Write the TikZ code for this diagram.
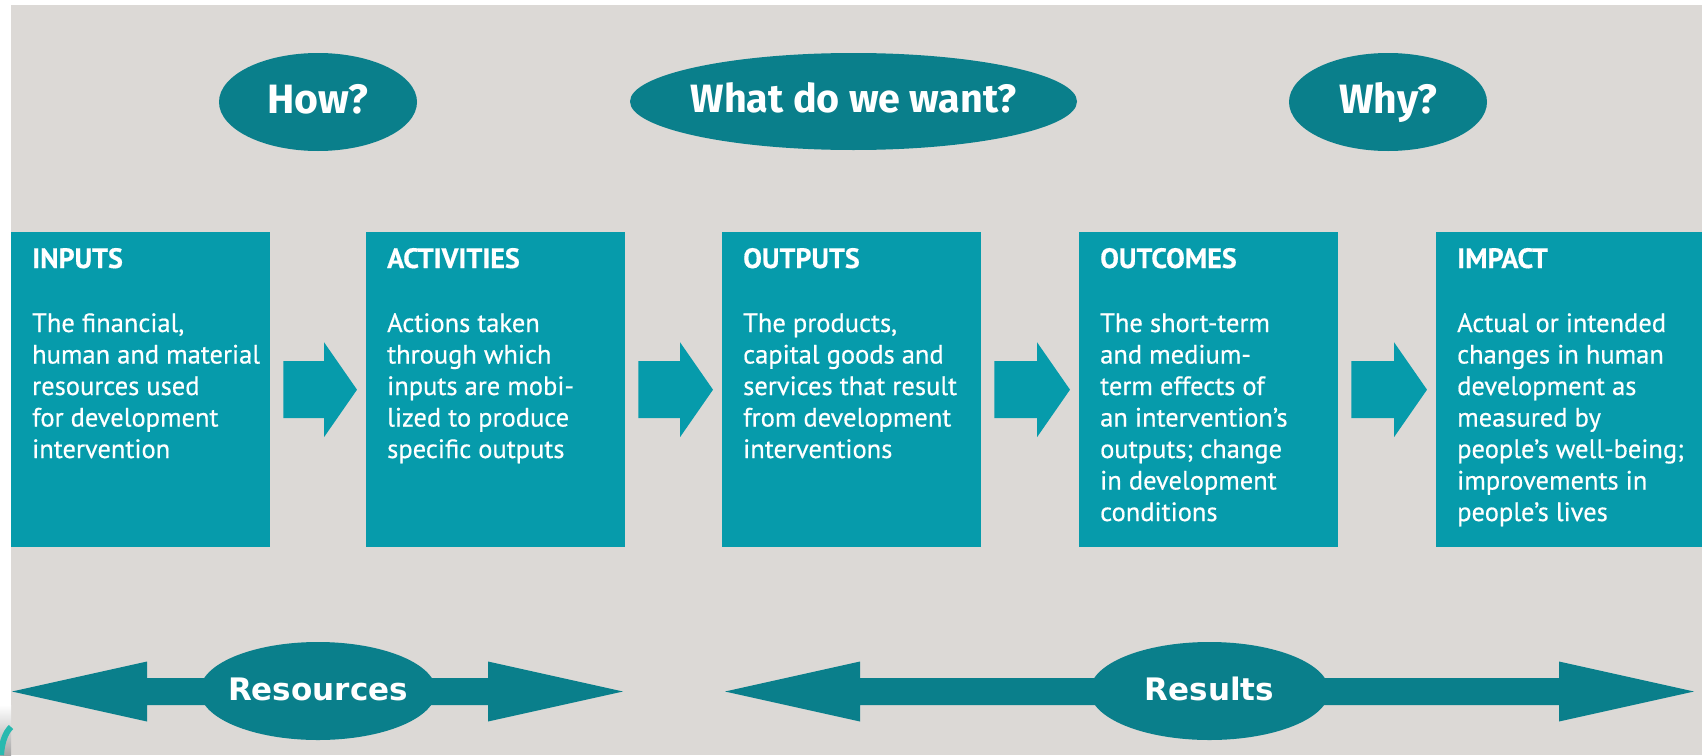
\documentclass[tikz,border=0pt]{standalone}
\usepackage{fontspec}
\setmainfont{PT Sans}[FakeBold=0.5]
\newfontfamily\labelfamily{Fira Sans}
\newfontfamily\bandfamily{DejaVu Sans}
\usetikzlibrary{shapes.geometric,calc}

\definecolor{paper}{RGB}{220,217,214}
\definecolor{boxteal}{RGB}{6,155,171}
\definecolor{deepteal}{RGB}{10,127,139}
\definecolor{edgeteal}{RGB}{40,185,175}

% heading line of a stage box
\newcommand\stagehead[1]{{\fontsize{28}{31.5}\bfseries #1}\\[32.5pt]}

\begin{document}
\begin{tikzpicture}[x=1pt,y=-1pt,
  stage/.style={rectangle, fill=boxteal, draw=none, inner sep=0pt,
    minimum width=259pt, minimum height=315pt, anchor=north west},
  stagetext/.style={anchor=base west, inner sep=0pt, text=white,
    font=\fontsize{26.5}{31.5}\selectfont},
  question/.style={ellipse, fill=deepteal, draw=none, inner sep=0pt,
    text=white, text height=22pt, text depth=0pt,
    font=\labelfamily\bfseries\fontsize{41}{43}\selectfont},
  tag/.style={question, text height=18pt,
    font=\bandfamily\bfseries\fontsize{31}{33}\selectfont},
  % block arrow between two stage boxes
  flow/.style={fill=boxteal, to path={
    let \p1=(\tikztostart.east), \p2=(\tikztotarget.west) in
    (\x1+13pt,\y1+28.5pt) -- (\x2-42pt,\y1+28.5pt) -- (\x2-42pt,\y1+47.5pt)
    -- (\x2-9pt,\y1) -- (\x2-42pt,\y1-47.5pt) -- (\x2-42pt,\y1-28.5pt)
    -- (\x1+13pt,\y1-28.5pt) -- cycle}},
  % double-headed band arrow
  span/.style={fill=deepteal, to path={
    let \p1=(\tikztostart), \p2=(\tikztotarget) in
    (\x1,\y1) -- (\x1+135pt,\y1+30pt) -- (\x1+135pt,\y1+13.5pt)
    -- (\x2-135pt,\y1+13.5pt) -- (\x2-135pt,\y1+30pt) -- (\x2,\y1)
    -- (\x2-135pt,\y1-30pt) -- (\x2-135pt,\y1-13.5pt)
    -- (\x1+135pt,\y1-13.5pt) -- (\x1+135pt,\y1-30pt) -- cycle}}
]
\useasboundingbox (0,0) rectangle (1702,755);

% page and panel
\fill[white] (0,0) rectangle (1702,755);
\fill[paper] (11,5) rectangle (1702,755);
\shade[top color=white, bottom color=black!35] (0,705) rectangle (11,755);
\draw[edgeteal, line width=6pt] (11,727) .. controls (5,733) and (2,742) .. (1,755);

% guiding questions
\node[question, minimum width=198pt, minimum height=98pt] (how) at (318,102) {\makebox[0pt]{How?}};
\node[question, minimum width=447pt, minimum height=97pt,
  font=\labelfamily\bfseries\fontsize{39.5}{41}\selectfont] (want) at (853.5,101.5) {\makebox[0pt]{What do we want?}};
\node[question, minimum width=198pt, minimum height=98pt] (why) at (1388,102) {\makebox[0pt]{Why?}};

% result chain
\node[stage] (inputs) at (11,232) {};
\node[stage] (activities) at (366,232) {};
\node[stage] (outputs) at (722,232) {};
\node[stage] (outcomes) at (1079,232) {};
\node[stage, minimum width=266pt] (impact) at (1436,232) {};

\node[stagetext] (inputs-text) at ($(inputs.north west)+(21,36)$) {\parbox[t]{300pt}{\raggedright
  \stagehead{INPUTS}
  The financial,\\ human and material\\ resources used\\ for development\\ intervention}};
\node[stagetext] (activities-text) at ($(activities.north west)+(21,36)$) {\parbox[t]{300pt}{\raggedright
  \stagehead{ACTIVITIES}
  Actions taken\\ through which\\ inputs are mobi-\\ lized to produce\\ specific outputs}};
\node[stagetext] (outputs-text) at ($(outputs.north west)+(21,36)$) {\parbox[t]{300pt}{\raggedright
  \stagehead{OUTPUTS}
  The products,\\ capital goods and\\ services that result\\ from development\\ interventions}};
\node[stagetext] (outcomes-text) at ($(outcomes.north west)+(21,36)$) {\parbox[t]{300pt}{\raggedright
  \stagehead{OUTCOMES}
  The short-term\\ and medium-\\ term effects of\\ an intervention’s\\ outputs; change\\ in development\\ conditions}};
\node[stagetext] (impact-text) at ($(impact.north west)+(21,36)$) {\parbox[t]{300pt}{\raggedright
  \stagehead{IMPACT}
  Actual or intended\\ changes in human\\ development as\\ measured by\\ people’s well-being;\\ improvements in\\ people’s lives}};

\fill[flow] (inputs) to (activities);
\fill[flow] (activities) to (outputs);
\fill[flow] (outputs) to (outcomes);
\fill[flow] (outcomes) to (impact);

% resources and results bands
\coordinate (res-l) at (12,691.5);
\coordinate (res-r) at (623,691.5);
\fill[span] (res-l) to (res-r);
\node[tag, minimum width=236pt, minimum height=98pt] (resources) at (318,691) {\makebox[0pt]{Resources}};

\coordinate (out-l) at (725,691.5);
\coordinate (out-r) at (1694,691.5);
\fill[span] (out-l) to (out-r);
\node[tag, minimum width=239pt, minimum height=98pt] (results) at (1209.5,691) {\makebox[0pt]{Results}};
\end{tikzpicture}
\end{document}
